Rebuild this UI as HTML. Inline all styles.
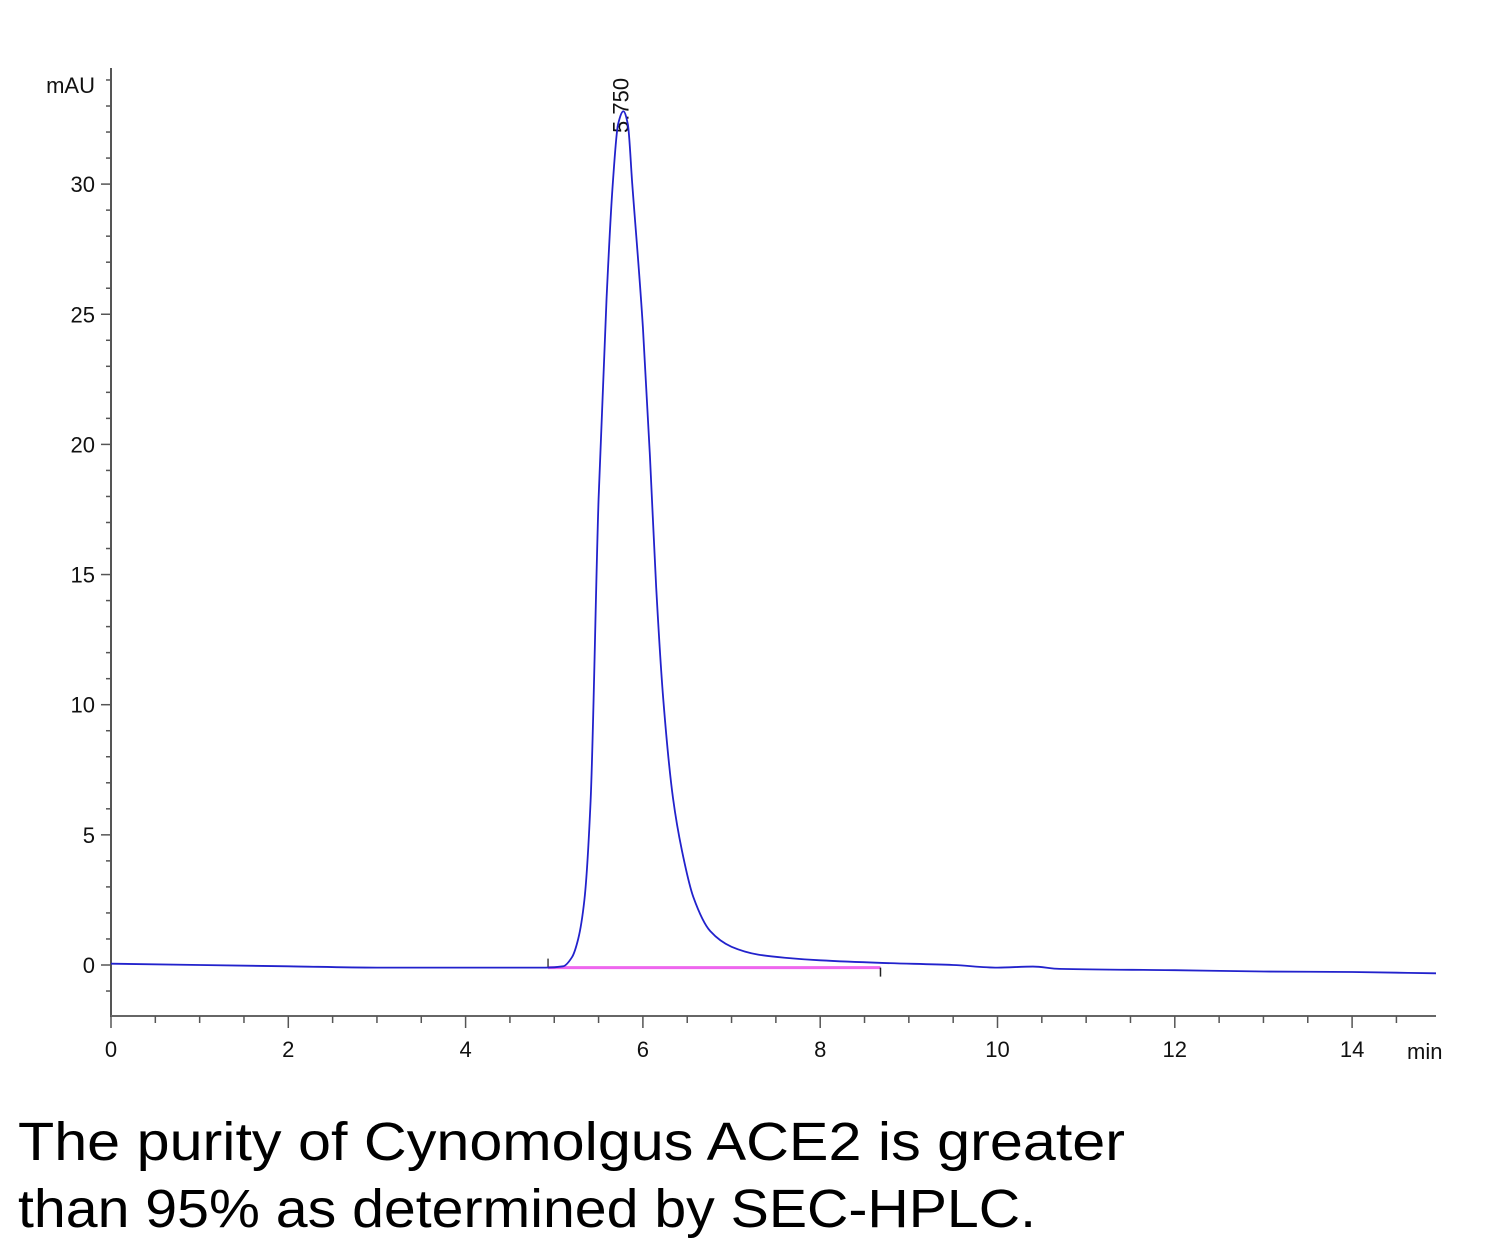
<!DOCTYPE html>
<html><head><meta charset="utf-8"><style>
html,body{margin:0;padding:0;background:#fff;}
svg{display:block;}
</style></head><body>
<svg id="chart" width="1500" height="1252" viewBox="0 0 1500 1252" xmlns="http://www.w3.org/2000/svg" font-family="Liberation Sans, Arial, sans-serif">
<defs><clipPath id="plotclip"><rect x="111" y="60" width="1325" height="1000"/></clipPath></defs>
<g id="axes"></g>
<g id="series" clip-path="url(#plotclip)"></g>
<text x="18" y="1160" font-size="54" textLength="1107" lengthAdjust="spacingAndGlyphs" fill="#000">The purity of Cynomolgus ACE2 is greater</text>
<text x="18" y="1227" font-size="54" textLength="1018" lengthAdjust="spacingAndGlyphs" fill="#000">than 95% as determined by SEC-HPLC.</text>
</svg>
<script>
const times = [0,1,2,3,4,4.9,5.1,5.2,5.27,5.34,5.41,5.5,5.59,5.66,5.72,5.78,5.83,5.88,6.0,6.08,6.15,6.23,6.34,6.44,6.57,6.76,7.0,7.3,7.6,8,8.7,9.5,10,10.4,10.7,12,13,14,14.95];
const signal = [0.05,0.0,-0.05,-0.1,-0.1,-0.1,-0.05,0.3,1,2.5,6.3,17.9,25.6,30,32.3,32.8,32.3,30,24.5,19.5,14.5,10.2,6.4,4.4,2.6,1.3,0.7,0.4,0.28,0.18,0.08,0.0,-0.1,-0.06,-0.15,-0.2,-0.25,-0.27,-0.32];
const xTicks = [0,2,4,6,8,10,12,14];
const yTicks = [0,5,10,15,20,25,30];
const peakTime = [5.75];
const peakLabel = ["5.750"];
const integStart = [4.93, -0.1];
const integEnd = [8.68, -0.1];

const NS = "http://www.w3.org/2000/svg";
const X0 = 111, PXM = 88.65, Y0 = 965, PXU = 26.03;
const xs = t => X0 + t * PXM;
const ys = v => Y0 - v * PXU;
const axes = document.getElementById('axes');
const series = document.getElementById('series');
function mk(tag, attrs, parent) {
  const e = document.createElementNS(NS, tag);
  for (const k in attrs) e.setAttribute(k, attrs[k]);
  parent.appendChild(e);
  return e;
}
let e;
e = mk('line', {x1:X0, y1:68, x2:X0, y2:1017, stroke:'#555', 'stroke-width':2}, axes);


e = mk('line', {x1:X0, y1:1016, x2:1436, y2:1016, stroke:'#666', 'stroke-width':2}, axes);


for (let v = -1; v <= 34; v++) {
  const y = ys(v);
  if (y < 70 || y > 1015) continue;
  const major = v % 5 === 0;
  mk('line', {x1:X0 - (major ? 10 : 5), y1:y, x2:X0, y2:y, stroke:'#555', 'stroke-width':1.5}, axes);
}
yTicks.forEach(v => {
  const t = mk('text', {x:X0 - 16, y:ys(v) + 8, 'font-size':22, 'text-anchor':'end', fill:'#111'}, axes);
  t.textContent = v;
  
  
});
e = mk('text', {x:95, y:93, 'font-size':22, 'text-anchor':'end', fill:'#111'}, axes);
e.textContent = 'mAU';


for (let i = 0; i <= 30; i++) {
  const t = i * 0.5, x = xs(t);
  if (x > 1436) continue;
  const major = i % 4 === 0;
  mk('line', {x1:x, y1:1016, x2:x, y2:1016 + (major ? 12 : 7), stroke:'#555', 'stroke-width':1.5}, axes);
}
xTicks.forEach(v => {
  const t = mk('text', {x:xs(v), y:1057, 'font-size':22, 'text-anchor':'middle', fill:'#111'}, axes);
  t.textContent = v;
  
  
});
e = mk('text', {x:1407, y:1059, 'font-size':22, fill:'#111'}, axes);
e.textContent = 'min';


e = mk('line', {x1:xs(integStart[0]), y1:ys(integStart[1]), x2:xs(integEnd[0]), y2:ys(integEnd[1]), stroke:'#ee66ee', 'stroke-width':3}, series);


e = mk('line', {x1:xs(integStart[0]), y1:ys(integStart[1]) - 9, x2:xs(integStart[0]), y2:ys(integStart[1]), stroke:'#444', 'stroke-width':1.5}, series);


e = mk('line', {x1:xs(integEnd[0]), y1:ys(integEnd[1]), x2:xs(integEnd[0]), y2:ys(integEnd[1]) + 9, stroke:'#222', 'stroke-width':1.5}, series);


// monotone cubic (Fritsch-Carlson) in data space
const n = times.length;
const dk = [], m = new Array(n);
for (let i = 0; i < n - 1; i++) dk.push((signal[i + 1] - signal[i]) / (times[i + 1] - times[i]));
m[0] = dk[0]; m[n - 1] = dk[n - 2];
for (let i = 1; i < n - 1; i++) {
  if (dk[i - 1] * dk[i] <= 0) m[i] = 0;
  else {
    const h0 = times[i] - times[i - 1], h1 = times[i + 1] - times[i];
    const w1 = 2 * h1 + h0, w2 = h1 + 2 * h0;
    m[i] = (w1 + w2) / (w1 / dk[i - 1] + w2 / dk[i]);
  }
}
let d = 'M' + xs(times[0]) + ',' + ys(signal[0]);
for (let i = 0; i < n - 1; i++) {
  const h = times[i + 1] - times[i];
  const c1t = times[i] + h / 3, c1v = signal[i] + m[i] * h / 3;
  const c2t = times[i + 1] - h / 3, c2v = signal[i + 1] - m[i + 1] * h / 3;
  d += ' C' + xs(c1t) + ',' + ys(c1v) + ' ' + xs(c2t) + ',' + ys(c2v) + ' ' + xs(times[i + 1]) + ',' + ys(signal[i + 1]);
}
e = mk('path', {d:d, fill:'none', stroke:'#2222cc', 'stroke-width':1.8}, series);


peakTime.forEach((t, i) => {
  const x = xs(t) + 8, y = 133;
  const lbl = mk('text', {x:x, y:y, 'font-size':22, fill:'#111', transform:'rotate(-90 ' + x + ' ' + y + ')'}, axes);
  lbl.textContent = peakLabel[i];
  
  
});
</script>
</body></html>
